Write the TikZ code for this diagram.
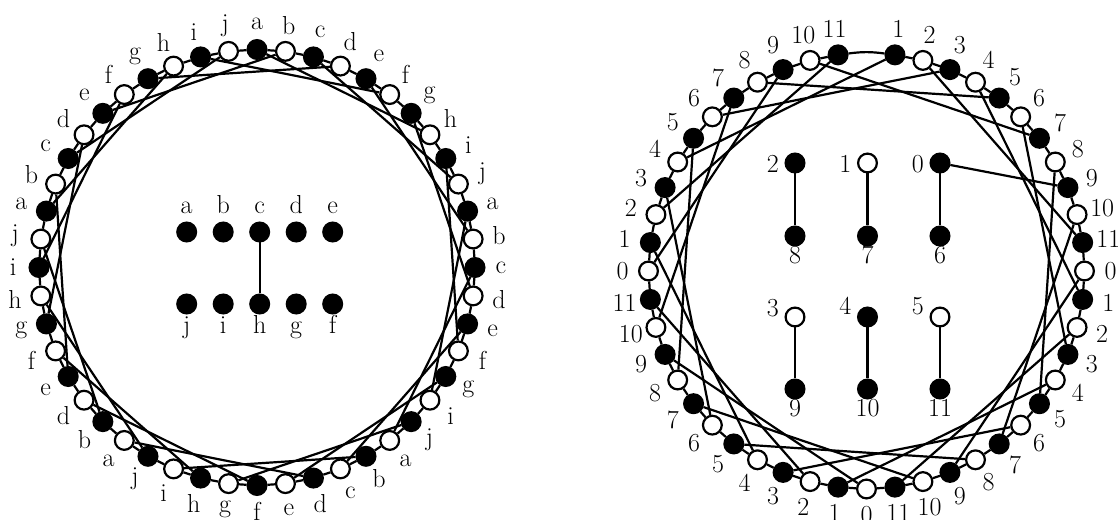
\documentclass[tikz,border=0pt]{standalone}
\begin{document}
\begin{tikzpicture}[x=1pt,y=1pt,line width=2.2pt,
  vtx/.style={circle,draw=black,inner sep=0pt,minimum size=18.8pt},
  fv/.style={vtx,fill=black},
  ov/.style={vtx,fill=white},
  lab/.style={inner sep=0pt,font=\fontsize{26}{30}\selectfont}]
\useasboundingbox (0,0) rectangle (1118,519);
% ---------- left ring ----------
\foreach \k/\l in {1/a,2/b,3/c,4/d,5/e,6/f,7/g,8/h,9/i,10/j,11/a,12/b,13/c,14/d,15/e,16/f,17/g,18/i,19/j,20/a,21/b,22/c,23/d,24/e,25/f,26/g,27/h,28/i,29/j,30/a,31/b,32/d,33/e,34/f,35/g,36/h,37/i,38/j,39/a,40/b,41/c,42/d,43/e,44/f,45/g,46/h,47/i,48/j}{
  \pgfmathsetmacro\ang{90-7.5*(\k-1)}
  \pgfmathtruncatemacro\odd{mod(\k,2)}
  \ifnum\odd=1 \def\fc{black}\else\def\fc{white}\fi
  \node[vtx,fill=\fc] (L\k) at ({257+218*cos(\ang)},{251.5+218*sin(\ang)}) {};
  \node[lab] (LT\k) at ({257+244*cos(\ang)},{251.5+244*sin(\ang)}) {\l};
}
\foreach \k in {1,...,48}{
  \pgfmathtruncatemacro\nx{mod(\k,48)+1}
  \draw (L\k) -- (L\nx);
}
\foreach \k in {1,3,...,47}{
  \pgfmathtruncatemacro\m{mod(\k+6,48)+1}
  \draw (L\k) -- (L\m);
}
% left centre
\foreach \n/\x in {a/186.7,b/223.2,c/259.7,d/296.2,e/332.7}{
  \node[fv] (C\n) at (\x,287) {};
  \node[lab,anchor=base] at (\x,305) {\n};
}
\foreach \n/\x in {j/186.7,i/223.2,h/259.7,g/296.2,f/332.7}{
  \node[fv] (C\n) at (\x,215) {};
  \node[lab,anchor=base] at (\x,185) {\n};
}
\draw (Cc) -- (Ch);
% ---------- right ring ----------
\foreach \s in {1,...,47}{
  \pgfmathsetmacro\ang{90-7.5*\s}
  \pgfmathtruncatemacro\odd{mod(\s,2)}
  \pgfmathtruncatemacro\lb{mod(\s,12)}
  \ifnum\odd=1 \def\fc{black}\else\def\fc{white}\fi
  \node[vtx,fill=\fc] (R\s) at ({866.5+218*cos(\ang)},{248+218*sin(\ang)}) {};
  \node[lab] (RT\s) at ({866.5+244*cos(\ang)},{248+244*sin(\ang)}) {\lb};
}
\foreach \s in {1,...,46}{
  \pgfmathtruncatemacro\nx{\s+1}
  \draw (R\s) -- (R\nx);
}
\draw (R47) to[bend left=7.5] (R1);
\foreach \s in {2,4,...,46}{
  \pgfmathtruncatemacro\t{mod(\s+8,48)+1}
  \draw (R\s) -- (R\t);
}
% right centre
\node[fv] (D2) at (795,356) {};
\node[ov] (D1) at (867.5,356) {};
\node[fv] (D0) at (940,356) {};
\node[fv] (D8) at (795,283) {};
\node[fv] (D7) at (867.5,283) {};
\node[fv] (D6) at (940,283) {};
\node[ov] (D3) at (795,202) {};
\node[fv] (D4) at (867.5,202) {};
\node[ov] (D5) at (940,202) {};
\node[fv] (D9) at (795,130) {};
\node[fv] (D10) at (867.5,130) {};
\node[fv] (D11) at (940,130) {};
\node[lab,anchor=base east] at (780,346) {2};
\node[lab,anchor=base east] at (852.5,346) {1};
\node[lab,anchor=base east] at (925,346) {0};
\node[lab,anchor=base] at (795,255) {8};
\node[lab,anchor=base] at (867.5,255) {7};
\node[lab,anchor=base] at (940,255) {6};
\node[lab,anchor=base east] at (780,202) {3};
\node[lab,anchor=base east] at (852.5,204) {4};
\node[lab,anchor=base east] at (925,204) {5};
\node[lab,anchor=base] at (795,102) {9};
\node[lab,anchor=base] at (867.5,102) {10};
\node[lab,anchor=base] at (940,102) {11};
\draw (D2) -- (D8);
\draw (D1) -- (D7);
\draw (D0) -- (D6);
\draw (D3) -- (D9);
\draw (D4) -- (D10);
\draw (D5) -- (D11);
\draw (D0) -- (R9);
\end{tikzpicture}
\end{document}
